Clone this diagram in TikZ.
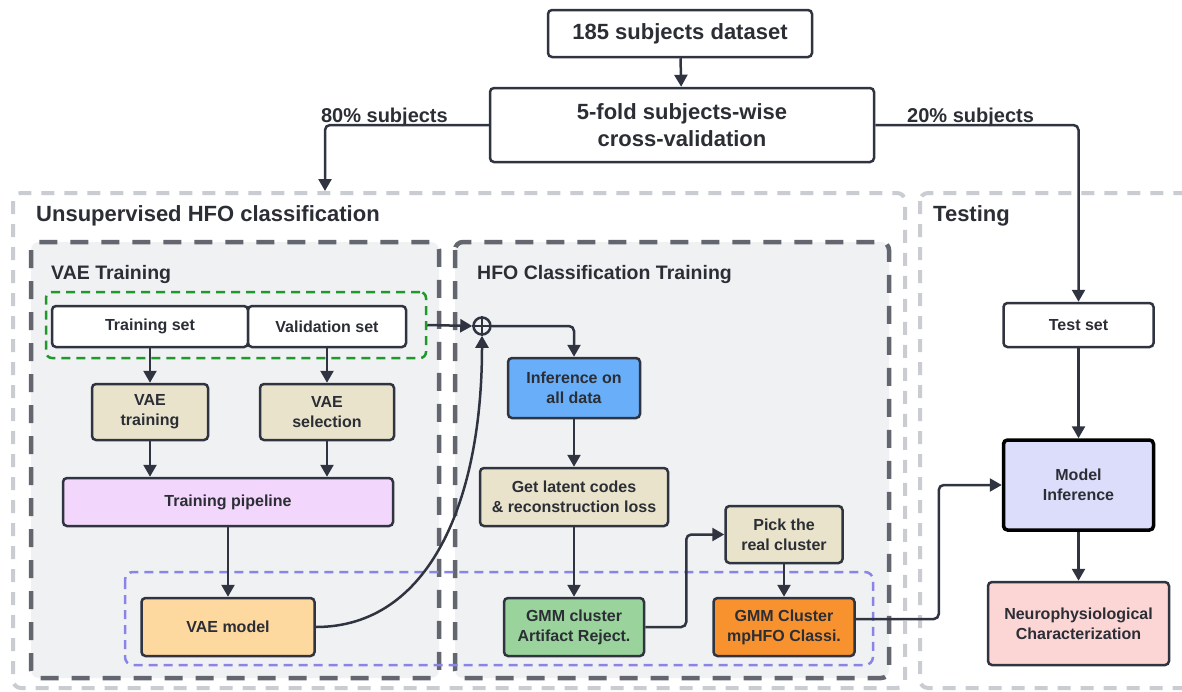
\documentclass[tikz,border=0pt]{standalone}
\usepackage{fontspec}
\setmainfont{Liberation Sans}
\usetikzlibrary{arrows.meta}
\definecolor{linec}{HTML}{2F3440}
\definecolor{txtc}{HTML}{2B2E35}
\definecolor{outerc}{HTML}{C9CCD1}
\definecolor{innerc}{HTML}{63666F}
\definecolor{innerfill}{HTML}{F0F1F3}
\definecolor{grnc}{HTML}{1F9A2A}
\definecolor{purc}{HTML}{8A84E6}
\definecolor{bluef}{HTML}{68AEF8}
\definecolor{beigef}{HTML}{E9E3CB}
\definecolor{lilacf}{HTML}{F3D6FB}
\definecolor{peachf}{HTML}{FDD89F}
\definecolor{greenf}{HTML}{9AD39C}
\definecolor{orangef}{HTML}{F7922F}
\definecolor{lavf}{HTML}{DCDCFB}
\definecolor{pinkf}{HTML}{FCD5D5}
\begin{document}
\begin{tikzpicture}[x=1pt,y=-1pt,
	every node/.style={inner sep=0pt, text=txtc},
	box/.style={draw=linec, line width=2.5pt, rounded corners=4pt, align=center, font=\fontsize{16}{20}\selectfont\bfseries},
	bigbox/.style={box, font=\fontsize{22}{27}\selectfont\bfseries},
	lbl/.style={font=\fontsize{20}{24}\selectfont\bfseries},
	ttl/.style={font=\fontsize{22}{26}\selectfont\bfseries},
	subttl/.style={font=\fontsize{19.5}{24}\selectfont\bfseries},
	outerreg/.style={draw=outerc, fill=white, line width=4pt, dash pattern=on 13pt off 10pt, rounded corners=8pt},
	innerreg/.style={draw=innerc, fill=innerfill, line width=4.5pt, dash pattern=on 18pt off 13pt, rounded corners=8pt},
	grnreg/.style={draw=grnc, line width=2.5pt, dash pattern=on 9pt off 6pt, rounded corners=6pt, minimum width=380, minimum height=66},
	purreg/.style={draw=purc, line width=2.5pt, dash pattern=on 9pt off 6pt, rounded corners=8pt},
	arr/.style={draw=linec, line width=2.5pt, rounded corners=5pt, -{Triangle[length=12pt,width=13pt]}}
]
	\useasboundingbox (0,0) rectangle (1182,691);
	\draw [outerreg] (13,193) rectangle (905,688);
	\draw [outerreg] (920,193) rectangle (1200,688);
	\draw [innerreg] (31,242) rectangle (439,678);
	\draw [innerreg] (455,242) rectangle (889,678);
	\node [ttl, anchor=base west] (tunsup) at (36,221) {Unsupervised HFO classification};
	\node [ttl, anchor=base west] (ttest) at (933,221) {Testing};
	\node [subttl, anchor=base west] (tvae) at (51,279) {VAE Training};
	\node [subttl, anchor=base west] (thfo) at (477,279) {HFO Classification Training};
	\node [bigbox, minimum width=264, minimum height=47] (data) at (680,33.5) {185 subjects dataset};
	\node [bigbox, minimum width=384, minimum height=74] (cv) at (682,125) {5-fold subjects-wise\\cross-validation};
	\node [lbl, anchor=base east] (l80) at (448,122) {80\% subjects};
	\node [lbl, anchor=base west] (l20) at (907,122) {20\% subjects};
	\node [grnreg] (grp) at (236,325) {};
	\node [box, fill=white, minimum width=196, minimum height=41] (trs) at (150,326.5) {Training set};
	\node [box, fill=white, minimum width=158, minimum height=41] (vals) at (327,326.5) {Validation set};
	\node [box, fill=beigef, minimum width=116, minimum height=56] (vaet) at (150,412) {VAE\\training};
	\node [box, fill=beigef, minimum width=134, minimum height=56] (vaes) at (327,412) {VAE\\selection};
	\node [box, fill=lilacf, minimum width=330, minimum height=48] (pipe) at (228,502) {Training pipeline};
	\node [box, fill=peachf, minimum width=173, minimum height=58] (vaem) at (228,627) {VAE model};
	\node [draw=linec, line width=2.5pt, circle, minimum size=17] (plus) at (482,326) {};
	\draw [linec, line width=2.5pt] (plus.north) -- (plus.south) (plus.west) -- (plus.east);
	\node [box, fill=bluef, minimum width=132, minimum height=60] (inf) at (574,388) {Inference on\\all data};
	\node [box, fill=beigef, minimum width=188, minimum height=58] (latent) at (574,497) {Get latent codes\\\& reconstruction loss};
	\node [box, fill=greenf, minimum width=140, minimum height=58] (gmmart) at (574,627) {GMM cluster\\Artifact Reject.};
	\node [box, fill=beigef, minimum width=117, minimum height=57] (pick) at (784,534.5) {Pick the\\real cluster};
	\node [box, fill=orangef, minimum width=141, minimum height=58] (gmmcls) at (784,627) {GMM Cluster\\mpHFO Classi.};
	\draw [purreg] (125,572) rectangle (873,665);
	\node [box, fill=white, minimum width=150, minimum height=44] (test) at (1078.5,325) {Test set};
	\node [box, fill=lavf, draw=black, line width=3.5pt, minimum width=150, minimum height=90] (modinf) at (1078.5,485) {Model\\Inference};
	\node [box, fill=pinkf, minimum width=181, minimum height=83] (neuro) at (1078.5,623.5) {Neurophysiological\\Characterization};
	\coordinate (u80) at (325,191);
	\draw [arr] (data) -- (cv);
	\draw [arr] (cv.west) -| (u80);
	\draw [arr] (cv.east) -| (test.north);
	\draw [arr] (trs) -- (vaet);
	\draw [arr] (vals) -- (vaes);
	\draw [arr] (vaet) -- (vaet |- pipe.north);
	\draw [arr] (vaes) -- (vaes |- pipe.north);
	\draw [arr] (pipe) -- (vaem);
	\draw [arr] (grp.east) -- (plus.west);
	\draw [arr] (vaem.east) .. controls (430,627) and (482,500) .. (plus.south);
	\draw [arr] (plus.east) -| (inf.north);
	\draw [arr] (inf) -- (latent);
	\draw [arr] (latent) -- (gmmart);
	\draw [arr] (gmmart.east) -- ++(41,0) |- (pick.west);
	\draw [arr] (pick) -- (gmmcls);
	\draw [arr] ([yshift=8pt]gmmcls.east) -- ++(83,0) |- (modinf.west);
	\draw [arr] (test) -- (modinf);
	\draw [arr] (modinf) -- (neuro);
\end{tikzpicture}
\end{document}
